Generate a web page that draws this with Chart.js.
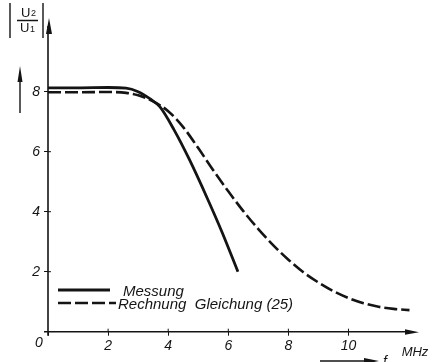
<!DOCTYPE html>
<html>
<head>
<meta charset="utf-8">
<script src="https://cdn.jsdelivr.net/npm/chart.js@4.4.0/dist/chart.umd.min.js"></script>
<style>
    html, body { margin: 0; padding: 0; background: #fff; }
    #wrap { width: 436px; height: 362px; position: relative; }
</style>
</head>
<body>
<div id="wrap"><canvas id="chart" width="436" height="362"></canvas></div>
<script>
// values
const messungX = [0, 1, 2, 2.6, 3.0, 3.4, 3.72, 4.2, 4.7, 5.3, 5.8, 6.32];
const messungY = [8.13, 8.13, 8.14, 8.12, 8.0, 7.76, 7.5, 6.72, 5.75, 4.45, 3.3, 2.0];
const rechnungX = [0, 1, 2, 2.6, 3.0, 3.5, 4.0, 4.5, 5.0, 5.5, 6.0, 6.5, 7.0, 7.5, 8.0, 8.5, 9.0, 9.5, 10.0, 10.5, 11.0, 11.5, 12.03];
const rechnungY = [7.98, 7.98, 7.99, 7.96, 7.88, 7.68, 7.35, 6.82, 6.12, 5.38, 4.68, 4.02, 3.42, 2.88, 2.4, 1.98, 1.64, 1.35, 1.12, 0.95, 0.83, 0.76, 0.72];
const xTicks = [0, 2, 4, 6, 8, 10];
const yTicks = [0, 2, 4, 6, 8];
const seriesNames = ['Messung', 'Rechnung  Gleichung (25)'];

const ink = '#141414';
const fontFamily = '"Liberation Sans", Arial, sans-serif';
const tickFont = { family: fontFamily, size: 14, style: 'italic' };

function toPoints(xs, ys) {
    return xs.map((x, i) => ({ x: x, y: ys[i] }));
}

const drawingPlugin = {
    id: 'drawing',
    afterDraw(chart) {
        const ctx = chart.ctx;
        const xs = chart.scales.x;
        const ys = chart.scales.y;
        const x0 = xs.getPixelForValue(0);
        const y0 = ys.getPixelForValue(0);

        ctx.save();
        ctx.strokeStyle = ink;
        ctx.fillStyle = ink;
        ctx.lineWidth = 1.6;

        // axes with arrows
        ctx.beginPath();
        ctx.moveTo(x0, y0 + 4);
        ctx.lineTo(x0, 26);
        ctx.moveTo(x0 - 4, y0);
        ctx.lineTo(410, y0);
        ctx.stroke();
        ctx.beginPath();
        ctx.moveTo(x0 + 1, 18);
        ctx.lineTo(x0 + 4, 34);
        ctx.lineTo(x0 - 2, 34);
        ctx.closePath();
        ctx.fill();
        ctx.beginPath();
        ctx.moveTo(419, y0 + 0.5);
        ctx.lineTo(405, y0 - 2.5);
        ctx.lineTo(405, y0 + 3);
        ctx.closePath();
        ctx.fill();

        // inner halves of the tick crosses
        ctx.lineWidth = 1;
        ctx.beginPath();
        xTicks.forEach(v => {
            if (!v) return;
            const px = xs.getPixelForValue(v);
            ctx.moveTo(px, y0);
            ctx.lineTo(px, y0 - 3);
        });
        yTicks.forEach(v => {
            if (!v) return;
            const py = ys.getPixelForValue(v);
            ctx.moveTo(x0, py);
            ctx.lineTo(x0 + 3, py);
        });
        ctx.stroke();

        // origin label, MHz and f arrow
        ctx.font = 'italic 14px ' + fontFamily;
        ctx.textAlign = 'center';
        ctx.textBaseline = 'middle';
        ctx.fillText('0', 39, 343);
        ctx.font = 'italic 13px ' + fontFamily;
        ctx.fillText('MHz', 415, 352);
        ctx.lineWidth = 1.4;
        ctx.beginPath();
        ctx.moveTo(320, 361);
        ctx.lineTo(368, 361);
        ctx.stroke();
        ctx.beginPath();
        ctx.moveTo(379, 361);
        ctx.lineTo(364, 358);
        ctx.lineTo(364, 364);
        ctx.closePath();
        ctx.fill();
        ctx.font = 'italic 14px ' + fontFamily;
        ctx.fillText('f', 385, 362);

        // y title |U2/U1| and arrow
        ctx.lineWidth = 1.4;
        ctx.beginPath();
        ctx.moveTo(10, 3);
        ctx.lineTo(10, 38);
        ctx.moveTo(43, 3);
        ctx.lineTo(43, 38);
        ctx.moveTo(17, 20.5);
        ctx.lineTo(38, 20.5);
        ctx.moveTo(20, 113);
        ctx.lineTo(20, 78);
        ctx.stroke();
        ctx.beginPath();
        ctx.moveTo(20, 66);
        ctx.lineTo(22.5, 82);
        ctx.lineTo(17.5, 82);
        ctx.closePath();
        ctx.fill();
        ctx.font = '13px ' + fontFamily;
        ctx.textAlign = 'left';
        ctx.fillText('U', 21, 13);
        ctx.fillText('U', 20, 28);
        ctx.font = '9px ' + fontFamily;
        ctx.fillText('2', 31, 14);
        ctx.fillText('1', 30, 30);

        // legend inside the plot
        chart.data.datasets.forEach((ds, i) => {
            const ly = i === 0 ? 290 : 303;
            ctx.strokeStyle = ds.borderColor;
            ctx.lineWidth = ds.borderWidth;
            ctx.setLineDash(ds.borderDash || []);
            ctx.beginPath();
            ctx.moveTo(58, ly);
            ctx.lineTo(i === 0 ? 110 : 116, ly);
            ctx.stroke();
            ctx.setLineDash([]);
            ctx.font = 'italic 15px ' + fontFamily;
            ctx.textAlign = 'left';
            ctx.textBaseline = 'middle';
            ctx.fillText(seriesNames[i], i === 0 ? 123 : 118, ly + 2);
        });
        ctx.restore();
    }
};

new Chart(document.getElementById('chart'), {
    type: 'line',
    data: {
        datasets: [{
            label: seriesNames[0],
            data: toPoints(messungX, messungY),
            borderColor: ink,
            borderWidth: 2.8,
            pointRadius: 0,
            cubicInterpolationMode: 'monotone',
            fill: false,
        }, {
            label: seriesNames[1],
            data: toPoints(rechnungX, rechnungY),
            borderColor: ink,
            borderWidth: 2.6,
            borderDash: [13, 4],
            pointRadius: 0,
            cubicInterpolationMode: 'monotone',
            fill: false,
        }]
    },
    options: {
        responsive: false,
        animation: false,
        layout: { padding: { left: 0, top: 19.7, right: 12.4, bottom: 0 } },
        plugins: { legend: { display: false }, tooltip: { enabled: false } },
        scales: {
            x: {
                type: 'linear',
                min: 0,
                max: 12.5,
                afterFit: s => { s.height = 30.3; },
                afterBuildTicks: s => { s.ticks = xTicks.map(v => ({ value: v })); },
                grid: { display: true, drawOnChartArea: false, drawTicks: true, tickLength: 4, color: ink },
                border: { display: false },
                ticks: { callback: v => v === 0 ? '' : v, font: tickFont, color: ink, padding: 2, maxRotation: 0 }
            },
            y: {
                type: 'linear',
                min: 0,
                max: 10.4,
                afterFit: s => { s.width = 48; },
                afterBuildTicks: s => { s.ticks = yTicks.map(v => ({ value: v })); },
                grid: { display: true, drawOnChartArea: false, drawTicks: true, tickLength: 4, color: ink },
                border: { display: false },
                ticks: { callback: v => v === 0 ? '' : v, font: tickFont, color: ink, padding: 4 }
            }
        }
    },
    plugins: [drawingPlugin]
});
</script>
</body>
</html>
